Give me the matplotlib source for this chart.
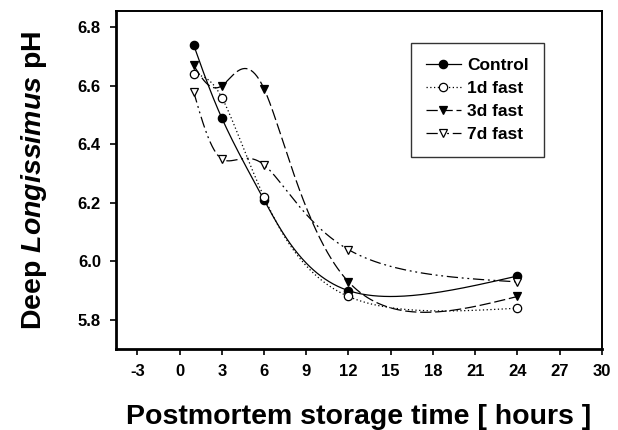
import numpy as np
import matplotlib
matplotlib.use("Agg")
import matplotlib.pyplot as plt

plt.rcParams['font.family'] = ['Liberation Sans', 'DejaVu Sans']
plt.rcParams['font.weight'] = 'bold'
plt.rcParams['axes.labelweight'] = 'bold'
plt.rcParams['axes.unicode_minus'] = False
plt.rcParams['mathtext.fontset'] = 'custom'
plt.rcParams['mathtext.it'] = 'Liberation Sans:italic:bold'
plt.rcParams['mathtext.rm'] = 'Liberation Sans:bold'

# data
hours = [1, 3, 6, 12, 24]
control = [6.74, 6.49, 6.21, 5.90, 5.95]
fast_1d = [6.64, 6.56, 6.22, 5.88, 5.84]
fast_3d = [6.67, 6.60, 6.59, 5.93, 5.88]
fast_7d = [6.58, 6.35, 6.33, 6.04, 5.93]
x_ticks = [-3, 0, 3, 6, 9, 12, 15, 18, 21, 24, 27, 30]
y_ticks = [5.8, 6.0, 6.2, 6.4, 6.6, 6.8]


def natural_coeffs(t, y):
    h = np.diff(t)
    m = len(t)
    A = np.zeros((m, m))
    b = np.zeros(m)
    A[0, 0] = A[-1, -1] = 1
    for i in range(1, m - 1):
        A[i, i - 1] = h[i - 1]
        A[i, i] = 2 * (h[i - 1] + h[i])
        A[i, i + 1] = h[i]
        b[i] = 6 * ((y[i + 1] - y[i]) / h[i] - (y[i] - y[i - 1]) / h[i - 1])
    return np.linalg.solve(A, b)


def eval_seg(t, y, M, i, tt):
    h = t[i + 1] - t[i]
    a = t[i + 1] - tt
    c = tt - t[i]
    return (M[i] * a**3 + M[i + 1] * c**3) / (6 * h) \
        + (y[i] / h - M[i] * h / 6) * a + (y[i + 1] / h - M[i + 1] * h / 6) * c


def smooth_curve(x, y, n=80):
    # parametric natural spline with uniform parameter (one step per point)
    x = np.asarray(x, float)
    y = np.asarray(y, float)
    t = np.arange(len(x), dtype=float)
    Mx = natural_coeffs(t, x)
    My = natural_coeffs(t, y)
    xs, ys, idx = [], [], []
    for i in range(len(x) - 1):
        tt = np.linspace(t[i], t[i + 1], n, endpoint=False)
        idx.append(len(xs))
        xs.extend(eval_seg(t, x, Mx, i, tt))
        ys.extend(eval_seg(t, y, My, i, tt))
    idx.append(len(xs))
    xs.append(x[-1])
    ys.append(y[-1])
    return np.array(xs), np.array(ys), idx


fig = plt.figure(figsize=(6.18, 4.30), dpi=100)
ax = fig.add_axes([0.188, 0.188, 0.786, 0.786])

series = [
    (control, 'Control', 'o', 'black', '-'),
    (fast_1d, '1d fast', 'o', 'white', (0, (1, 2))),
    (fast_3d, '3d fast', 'v', 'black', (0, (9, 3))),
    (fast_7d, '7d fast', 'v', 'white', (0, (9, 3, 1.5, 3, 1.5, 3))),
]
for vals, lab, mk, fc, ls in series:
    xs, ys, idx = smooth_curve(hours, vals)
    ax.plot(xs, ys, color='black', lw=0.9, linestyle=ls, marker=mk,
            markevery=idx, markersize=6, markerfacecolor=fc,
            markeredgecolor='black', markeredgewidth=0.9, label=lab)

ax.set_xlim(-4.5, 30)
ax.set_ylim(5.7, 6.855)
ax.set_xticks(x_ticks)
ax.set_yticks(y_ticks)
ax.set_yticklabels([f'{v:.1f}' for v in y_ticks])
ax.tick_params(labelsize=12, length=4, width=1.2, pad=7)
for side in ['left', 'bottom']:
    ax.spines[side].set_linewidth(2)
for side in ['top', 'right']:
    ax.spines[side].set_linewidth(1.4)

ax.set_xlabel('Postmortem storage time [ hours ]', fontsize=20.5,
              fontweight='bold', labelpad=18)
ax.set_ylabel(r'Deep $\mathit{Longissimus}$ pH', fontsize=20.5,
              fontweight='bold', labelpad=21)

leg = ax.legend(loc='upper left', bbox_to_anchor=(0.607, 0.905), fontsize=12.5,
                frameon=True, fancybox=False, handlelength=2.0, borderpad=0.85,
                labelspacing=0.45, handletextpad=0.4, borderaxespad=0)
leg.get_frame().set_edgecolor('black')
leg.get_frame().set_linewidth(1)

fig.savefig('out.png', dpi=100)
